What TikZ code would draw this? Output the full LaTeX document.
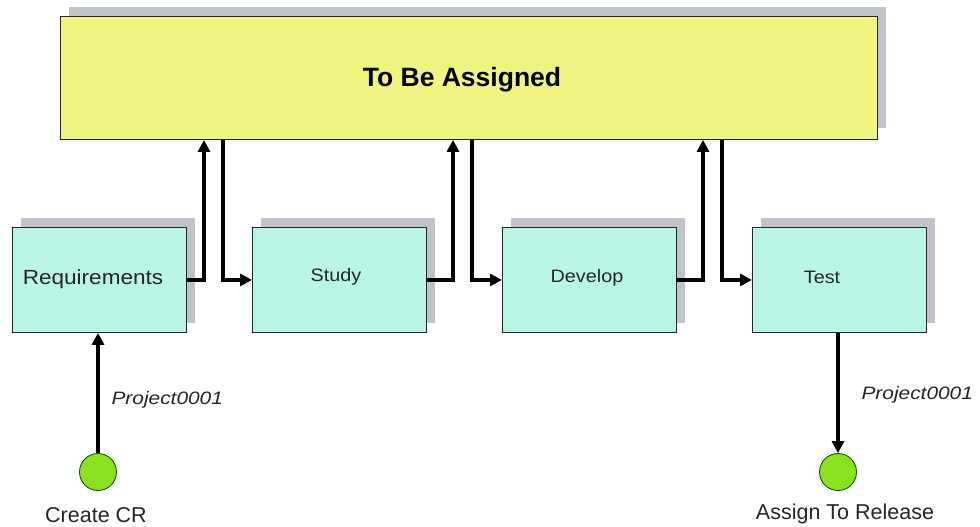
\documentclass[tikz,border=0pt]{standalone}
\usepackage{fontspec}
\setmainfont{Liberation Sans}
\newfontfamily\widesans[FakeStretch=1.1]{Liberation Sans}
\newfontfamily\wideitalic[FakeStretch=1.16]{Liberation Sans Italic}
\usetikzlibrary{arrows.meta}
\definecolor{boxcyan}{RGB}{184,245,228}
\definecolor{tbayellow}{RGB}{240,245,128}
\definecolor{shadowgrey}{RGB}{192,196,202}
\definecolor{dotgreen}{RGB}{138,226,30}
\begin{document}
\begin{tikzpicture}[x=1pt,y=-1pt,
  stagebox/.style={draw=black!85, line width=0.9pt, fill=boxcyan, minimum width=174pt, minimum height=105pt, inner sep=0pt, anchor=north west},
  bigbox/.style={draw=black!85, line width=0.9pt, fill=tbayellow, minimum width=817pt, minimum height=123pt, inner sep=0pt, anchor=north west},
  shade/.style={fill=shadowgrey, draw=none},
  flow/.style={line width=3.5pt, line join=miter, -{Triangle[length=12pt,width=12pt]}},
  dot/.style={circle, minimum size=37pt, inner sep=0pt, fill=dotgreen, draw=black!70!green, line width=0.8pt},
  stagetext/.style={font=\widesans\fontsize{18}{22}\selectfont, text=black!85},
  bigtext/.style={font=\widesans\fontsize{20.5}{24}\selectfont, text=black!85},
  endtext/.style={font=\fontsize{21.5}{24}\selectfont, text=black!85},
  flowtext/.style={font=\wideitalic\fontsize{18}{22}\selectfont, text=black!85, anchor=west},
  titletext/.style={font=\bfseries\fontsize{26.5}{30}\selectfont}
]
\useasboundingbox (0,0) rectangle (980,527);

% shadows
\fill[shade] (69,7) rectangle (886,128);
\fill[shade] (20.5,217.5) rectangle ++(174,105);
\fill[shade] (260.5,217.5) rectangle ++(174,105);
\fill[shade] (510.5,217.5) rectangle ++(174,105);
\fill[shade] (760.5,217.5) rectangle ++(174,105);

% boxes
\node[bigbox] (tba) at (60,16) {};
\node[titletext] (tbat) at (462,80) {To Be Assigned};

\node[stagebox] (req) at (12,227) {};
\node[stagebox] (study) at (252,227) {};
\node[stagebox] (dev) at (502,227) {};
\node[stagebox] (test) at (752,227) {};

\node[bigtext] (reqt) at (93,279) {Requirements};
\node[stagetext] (studyt) at (336,277) {Study};
\node[stagetext] (devt) at (587,278) {Develop};
\node[stagetext] (testt) at (822,277) {Test};

% routing coordinates
\coordinate (u1) at (204,279);
\coordinate (d1) at (223,279);
\coordinate (u2) at (453,279);
\coordinate (d2) at (472,279);
\coordinate (u3) at (703,279);
\coordinate (d3) at (722,279);

\draw[flow] (req.east) -| (tba.south -| u1);
\draw[flow] (tba.south -| d1) |- (study.west);
\draw[flow] (study.east) -| (tba.south -| u2);
\draw[flow] (tba.south -| d2) |- (dev.west);
\draw[flow] (dev.east) -| (tba.south -| u3);
\draw[flow] (tba.south -| d3) |- (test.west);

% start and end
\node[dot] (start) at (98,472) {};
\node[dot] (finish) at (838,472) {};

\draw[flow] (start.north) -- (req.south -| start);
\draw[flow] (test.south -| finish) -- (finish.north);

\node[flowtext] (p1) at (108,400) {Project0001};
\node[flowtext] (p2) at (858,395) {Project0001};

\node[endtext] (startt) at (96,515) {Create CR};
\node[endtext] (finisht) at (845,514) {Assign To Release};
\end{tikzpicture}
\end{document}
